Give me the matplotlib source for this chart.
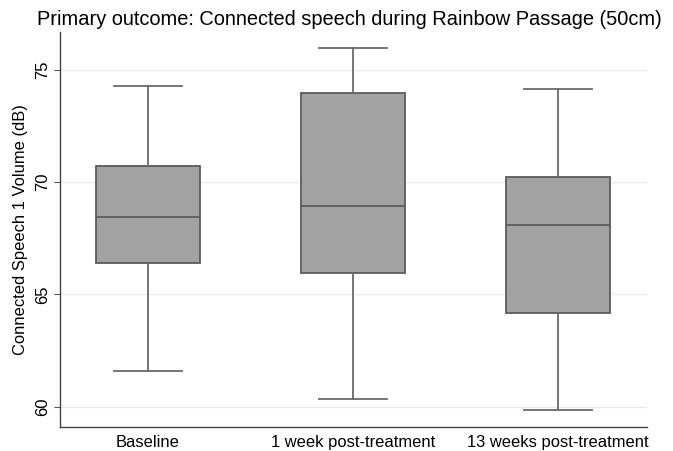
import matplotlib.pyplot as plt

plt.rcParams['font.family'] = ['Liberation Sans', 'DejaVu Sans']

groups = ['Baseline', '1 week post-treatment', '13 weeks post-treatment']
whislo = [61.6, 60.33, 59.87]
q1 = [66.4, 65.97, 64.18]
med = [68.43, 68.93, 68.08]
q3 = [70.72, 73.99, 70.25]
whishi = [74.28, 75.96, 74.15]

stats = []
for i in range(len(groups)):
    stats.append({'label': groups[i], 'whislo': whislo[i], 'q1': q1[i], 'med': med[i],
                  'q3': q3[i], 'whishi': whishi[i], 'fliers': []})

fig = plt.figure(figsize=(6.73, 4.51), dpi=100)
ax = fig.add_axes([0.0892, 0.0543, 0.8722, 0.8747])

edge = '#5c5c5c'
ax.bxp(stats, positions=[1, 2, 3], widths=0.507, capwidths=0.33, patch_artist=True,
       showfliers=False,
       boxprops=dict(facecolor='#a2a2a2', edgecolor=edge, linewidth=1.3),
       medianprops=dict(color=edge, linewidth=1.3),
       whiskerprops=dict(color='#6a6a6a', linewidth=1.3),
       capprops=dict(color='#6a6a6a', linewidth=1.3))

ax.set_xlim(0.571, 3.434)
ax.set_ylim(59.12, 76.69)
ax.set_yticks([60, 65, 70, 75])
ax.set_yticklabels(['60', '65', '70', '75'], rotation=90, va='center', fontsize=12)
ax.tick_params(axis='x', length=0, labelsize=11.9, pad=6)
ax.tick_params(axis='y', length=4, color='#555555', pad=3)
ax.yaxis.grid(True, color='#ececec', linewidth=1)
ax.set_axisbelow(True)

for s in ['top', 'right']:
    ax.spines[s].set_visible(False)
for s in ['left', 'bottom']:
    ax.spines[s].set_color('#444444')
    ax.spines[s].set_linewidth(1)

ax.set_ylabel('Connected Speech 1 Volume (dB)', fontsize=11.9, labelpad=5)
ax.set_title('Primary outcome: Connected speech during Rainbow Passage (50cm)', fontsize=14.4, pad=5, x=0.493)

plt.savefig('out.png', dpi=100)
